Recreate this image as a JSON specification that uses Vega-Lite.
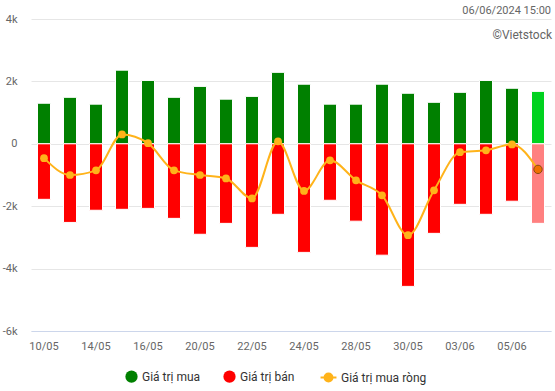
{
  "$schema": "https://vega.github.io/schema/vega-lite/v6.json",
  "width": 520,
  "height": 312,
  "autosize": "none",
  "padding": {"left": 31, "top": 19, "right": 4, "bottom": 60},
  "background": "white",
  "config": {
    "font": "Roboto",
    "view": {"stroke": null},
    "axis": {"labelColor": "#666666", "labelFontSize": 11, "titleFontSize": 11}
  },
  "title": {
    "text": "06/06/2024 15:00",
    "anchor": "end",
    "fontSize": 11,
    "fontWeight": "normal",
    "color": "#666666",
    "offset": -3,
    "frame": "group"
  },
  "data": {
    "values": [
      {"date": "10/05", "mua": 1300, "ban": -1780, "rong": -460},
      {"date": "13/05", "mua": 1490, "ban": -2520, "rong": -1000},
      {"date": "14/05", "mua": 1270, "ban": -2130, "rong": -850},
      {"date": "15/05", "mua": 2360, "ban": -2100, "rong": 300},
      {"date": "16/05", "mua": 2030, "ban": -2070, "rong": 20},
      {"date": "17/05", "mua": 1490, "ban": -2390, "rong": -850},
      {"date": "20/05", "mua": 1840, "ban": -2900, "rong": -1000},
      {"date": "21/05", "mua": 1430, "ban": -2550, "rong": -1110},
      {"date": "22/05", "mua": 1520, "ban": -3320, "rong": -1750},
      {"date": "23/05", "mua": 2290, "ban": -2260, "rong": 80},
      {"date": "24/05", "mua": 1910, "ban": -3480, "rong": -1510},
      {"date": "27/05", "mua": 1270, "ban": -1810, "rong": -530},
      {"date": "28/05", "mua": 1270, "ban": -2480, "rong": -1170},
      {"date": "29/05", "mua": 1910, "ban": -3570, "rong": -1650},
      {"date": "30/05", "mua": 1620, "ban": -4570, "rong": -2930},
      {"date": "31/05", "mua": 1330, "ban": -2870, "rong": -1490},
      {"date": "03/06", "mua": 1650, "ban": -1940, "rong": -270},
      {"date": "04/06", "mua": 2030, "ban": -2260, "rong": -210},
      {"date": "05/06", "mua": 1780, "ban": -1840, "rong": -20},
      {"date": "06/06", "mua": 1680, "ban": -2550, "rong": -820}
    ]
  },
  "encoding": {
    "x": {
      "field": "date",
      "type": "nominal",
      "sort": null,
      "scale": {"paddingInner": 0, "paddingOuter": 0},
      "axis": {
        "title": null,
        "labelAngle": 0,
        "ticks": false,
        "domainColor": "#ccd6eb",
        "labelPadding": 9,
        "values": ["10/05", "14/05", "16/05", "20/05", "22/05", "24/05", "28/05", "30/05", "03/06", "05/06"]
      }
    }
  },
  "layer": [
    {
      "mark": {"type": "bar", "size": 13, "stroke": "white", "strokeWidth": 1},
      "encoding": {
        "y": {
          "field": "mua",
          "type": "quantitative",
          "scale": {"domain": [-6000, 4000], "nice": false},
          "axis": {
            "title": null,
            "values": [-6000, -4000, -2000, 0, 2000, 4000],
            "labelExpr": "datum.value == 0 ? '0' : (datum.value / 1000) + 'k'",
            "ticks": false,
            "domain": false,
            "gridColor": "#e6e6e6",
            "labelPadding": 14
          }
        },
        "color": {
          "datum": "Giá trị mua",
          "type": "nominal",
          "condition": {"test": "datum.date === '06/06'", "value": "#00d21f"},
          "scale": {
            "domain": ["Giá trị mua", "Giá trị bán"],
            "range": ["#008000", "#ff0000"]
          },
          "legend": {
            "title": null,
            "orient": "none",
            "legendX": 94,
            "legendY": 351,
            "direction": "horizontal",
            "labelFontSize": 12,
            "labelColor": "#333333",
            "symbolType": "circle",
            "symbolSize": 150,
            "symbolStrokeWidth": 0,
            "columnPadding": 22
          }
        }
      }
    },
    {
      "mark": {"type": "bar", "size": 13, "stroke": "white", "strokeWidth": 1},
      "encoding": {
        "y": {"field": "ban", "type": "quantitative"},
        "color": {
          "datum": "Giá trị bán",
          "type": "nominal",
          "condition": {"test": "datum.date === '06/06'", "value": "#ff8080"}
        }
      }
    },
    {
      "mark": {"type": "line", "interpolate": "monotone", "strokeWidth": 2},
      "encoding": {
        "y": {"field": "rong", "type": "quantitative"},
        "stroke": {
          "datum": "Giá trị mua ròng",
          "type": "nominal",
          "scale": {"domain": ["Giá trị mua ròng"], "range": ["#ffb31a"]},
          "legend": {
            "title": null,
            "orient": "none",
            "legendX": 290,
            "legendY": 351,
            "labelFontSize": 12,
            "labelColor": "#333333",
            "symbolType": "M-1.3,0L1.3,0M0.65,0A0.65,0.65,0,1,1,-0.65,0A0.65,0.65,0,1,1,0.65,0Z",
            "symbolSize": 150,
            "symbolStrokeWidth": 2,
            "symbolFillColor": "#ffb31a",
            "labelOffset": 5,
            "encode": {
              "symbols": {
                "update": {
                  "fill": {"value": "#ffb31a"},
                  "stroke": {"value": "#ffb31a"},
                  "strokeWidth": {"value": 2}
                }
              }
            }
          }
        }
      }
    },
    {
      "mark": {"type": "point", "filled": true, "size": 60, "fill": "#ffb31a", "opacity": 1},
      "encoding": {
        "y": {"field": "rong", "type": "quantitative"}
      }
    },
    {
      "transform": [{"filter": "datum.date === '06/06'"}],
      "mark": {"type": "point", "filled": true, "size": 70, "fill": "#f07000", "stroke": "#8a4a10", "strokeWidth": 1, "opacity": 1},
      "encoding": {
        "y": {"field": "rong", "type": "quantitative"}
      }
    },
    {
      "data": {"values": [{"date": "06/06", "v": 3500, "label": "©Vietstock"}]},
      "mark": {"type": "text", "align": "right", "baseline": "middle", "dx": 14, "fontSize": 12, "color": "#666666"},
      "encoding": {
        "y": {"field": "v", "type": "quantitative"},
        "text": {"field": "label"}
      }
    }
  ]
}
